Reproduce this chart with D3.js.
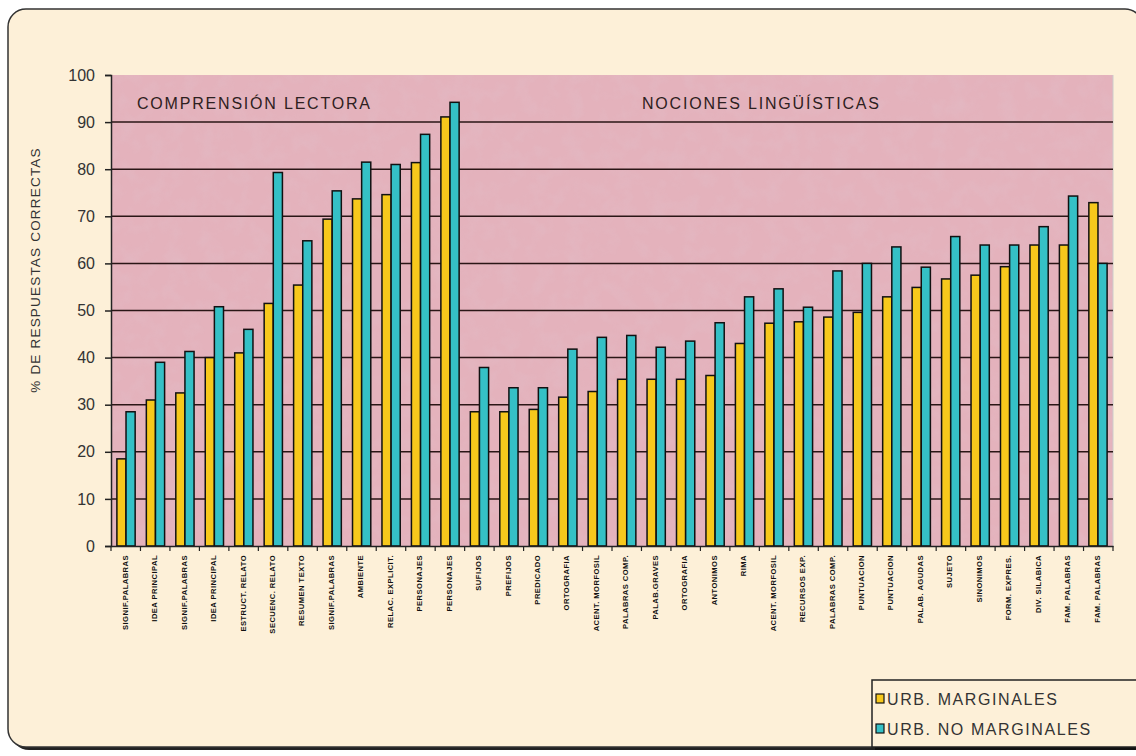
<!DOCTYPE html>
<html lang="es">
<head>
<meta charset="utf-8">
<title>% de respuestas correctas</title>
<style>
  body { margin: 0; background: #fff; }
  text { font-family: "Liberation Sans", Arial, sans-serif; }
  .tick text { font-size: 16px; fill: #333; }
  .xlab { font-size: 7.6px; font-weight: bold; fill: #111; letter-spacing: 0.45px; }
</style>
</head>
<body>
<svg width="1136" height="756"></svg>
<script src="https://d3js.org/d3.v7.min.js"></script>
<script>
// categorias (eje x)
var categories = [
  "SIGNIF.PALABRAS", "IDEA PRINCIPAL", "SIGNIF.PALABRAS", "IDEA PRINCIPAL",
  "ESTRUCT. RELATO", "SECUENC. RELATO", "RESUMEN TEXTO", "SIGNIF.PALABRAS",
  "AMBIENTE", "RELAC. EXPLICIT.", "PERSONAJES", "PERSONAJES",
  "SUFIJOS", "PREFIJOS", "PREDICADO", "ORTOGRAFIA", "ACENT. MORFOSIL",
  "PALABRAS COMP.", "PALAB.GRAVES", "ORTOGRAFIA", "ANTONIMOS", "RIMA",
  "ACENT. MORFOSIL", "RECURSOS EXP.", "PALABRAS COMP.", "PUNTUACION",
  "PUNTUACION", "PALAB. AGUDAS", "SUJETO", "SINONIMOS", "FORM. EXPRES.",
  "DIV. SILABICA", "FAM. PALABRAS", "FAM. PALABRAS"
];
// URB. MARGINALES
var marginales = [
  18.5, 31, 32.5, 40, 41, 51.5, 55.4, 69.4, 73.7, 74.6, 81.4, 91.1,
  28.5, 28.5, 29, 31.6, 32.8, 35.4, 35.4, 35.4, 36.2, 43, 47.3, 47.6,
  48.6, 49.6, 52.9, 54.9, 56.7, 57.5, 59.3, 63.9, 63.9, 72.9
];
// URB. NO MARGINALES
var noMarginales = [
  28.5, 39, 41.3, 50.8, 46, 79.3, 64.8, 75.4, 81.5, 81, 87.4, 94.2,
  37.9, 33.6, 33.6, 41.8, 44.3, 44.7, 42.2, 43.5, 47.4, 52.9, 54.6, 50.7,
  58.4, 60, 63.5, 59.2, 65.7, 63.9, 63.9, 67.8, 74.3, 60
];
var seriesNames = ["URB. MARGINALES", "URB. NO MARGINALES"];
var seriesColors = ["#f7c81c", "#35c0c6"];
var yTicks = [0, 10, 20, 30, 40, 50, 60, 70, 80, 90, 100];

var svg = d3.select("svg");

// fondo con textura suave
var defs = svg.append("defs");
var f = defs.append("filter").attr("id", "mottle").attr("x", 0).attr("y", 0).attr("width", 1).attr("height", 1);
f.append("feTurbulence").attr("type", "fractalNoise").attr("baseFrequency", 0.06).attr("numOctaves", 3).attr("seed", 4);
f.append("feColorMatrix").attr("type", "matrix")
  .attr("values", "0 0 0 0 0.75  0 0 0 0 0.55  0 0 0 0 0.62  0 0 0 1.1 -0.45");

// marco exterior
svg.append("rect").attr("x", 11).attr("y", 12).attr("width", 1135).attr("height", 738)
  .attr("rx", 18).attr("fill", "#222");
svg.append("rect").attr("x", 8).attr("y", 9).attr("width", 1135).attr("height", 738)
  .attr("rx", 18).attr("fill", "#fdf0d8").attr("stroke", "#333").attr("stroke-width", 1.5);

var margin = { left: 111, top: 75, right: 1113, bottom: 546 };

var x = d3.scaleBand().domain(d3.range(categories.length))
  .range([margin.left, margin.right]).paddingInner(0.38).paddingOuter(0.2);
var xs = d3.scaleBand().domain([0, 1]).range([0, x.bandwidth()]);
var y = d3.scaleLinear().domain([0, 100]).range([margin.bottom, margin.top]);

// area del grafico
svg.append("rect").attr("x", margin.left).attr("y", margin.top)
  .attr("width", margin.right - margin.left).attr("height", margin.bottom - margin.top)
  .attr("fill", "#e4b2bc");
svg.append("rect").attr("x", margin.left).attr("y", margin.top)
  .attr("width", margin.right - margin.left).attr("height", margin.bottom - margin.top)
  .attr("fill", "#fff").attr("filter", "url(#mottle)").attr("opacity", 0.5);
svg.append("line").attr("x1", margin.right).attr("x2", margin.right)
  .attr("y1", margin.top).attr("y2", margin.bottom).attr("stroke", "#ccc").attr("stroke-width", 1);

// lineas de division
svg.append("g").selectAll("line").data(yTicks.slice(1, -1)).join("line")
  .attr("x1", margin.left).attr("x2", margin.right)
  .attr("y1", function(d) { return y(d); }).attr("y2", function(d) { return y(d); })
  .attr("stroke", "#2a1616").attr("stroke-width", 1.5);

// barras
var groups = svg.append("g").selectAll("g").data(categories).join("g")
  .attr("transform", function(d, i) { return "translate(" + x(i) + ",0)"; });
[marginales, noMarginales].forEach(function(vals, s) {
  groups.append("rect")
    .attr("x", xs(s))
    .attr("y", function(d, i) { return y(vals[i]); })
    .attr("width", xs.bandwidth())
    .attr("height", function(d, i) { return y(0) - y(vals[i]); })
    .attr("fill", seriesColors[s])
    .attr("stroke", "#111").attr("stroke-width", 1.5);
});

// eje y
var yAxis = svg.append("g").attr("transform", "translate(" + margin.left + ",0)")
  .call(d3.axisLeft(y).tickValues(yTicks).tickSize(6).tickPadding(10));
yAxis.select(".domain").attr("stroke", "#222").attr("stroke-width", 1.5);
yAxis.selectAll(".tick line").attr("stroke", "#222").attr("stroke-width", 1.5);

// eje x
var xAxis = svg.append("g").attr("transform", "translate(0," + margin.bottom + ")")
  .call(d3.axisBottom(x).tickSize(0).tickFormat(""));
xAxis.select(".domain").attr("stroke", "#222").attr("stroke-width", 1.5);
svg.append("g").selectAll("line").data(d3.range(categories.length + 1)).join("line")
  .attr("x1", function(i) { return margin.left + i * (margin.right - margin.left) / categories.length; })
  .attr("x2", function(i) { return margin.left + i * (margin.right - margin.left) / categories.length; })
  .attr("y1", margin.bottom).attr("y2", margin.bottom + 5)
  .attr("stroke", "#222").attr("stroke-width", 1.2);

svg.append("g").selectAll("text").data(categories).join("text")
  .attr("class", "xlab")
  .attr("transform", function(d, i) {
    return "translate(" + (x(i) + x.bandwidth() / 2 - 1) + "," + (margin.bottom + 9) + ") rotate(-90)";
  })
  .attr("text-anchor", "end").attr("dy", "0.35em")
  .text(function(d) { return d; });

// titulo eje y
svg.append("text")
  .attr("transform", "translate(40,270) rotate(-90)")
  .attr("text-anchor", "middle")
  .style("font-size", "13.5px").style("letter-spacing", "1.2px").style("fill", "#333")
  .text("% DE RESPUESTAS CORRECTAS");

// rotulos de seccion
svg.append("text").attr("x", 137).attr("y", 109)
  .style("font-size", "16px").style("letter-spacing", "1.8px").style("fill", "#2e2020")
  .text("COMPRENSIÓN LECTORA");
svg.append("text").attr("x", 642).attr("y", 109)
  .style("font-size", "16px").style("letter-spacing", "1.8px").style("fill", "#2e2020")
  .text("NOCIONES LINGÜÍSTICAS");

// leyenda
var lg = svg.append("g").attr("transform", "translate(872,680)");
lg.append("rect").attr("x", 3).attr("y", 3).attr("width", 280).attr("height", 67).attr("fill", "#111");
lg.append("rect").attr("width", 280).attr("height", 67)
  .attr("fill", "#fdf0d8").attr("stroke", "#222").attr("stroke-width", 1.5);
seriesNames.forEach(function(name, i) {
  lg.append("rect").attr("x", 4).attr("y", 14 + i * 30).attr("width", 8).attr("height", 9)
    .attr("fill", seriesColors[i]).attr("stroke", "#111").attr("stroke-width", 1.2);
  lg.append("text").attr("x", 15).attr("y", 25 + i * 30)
    .style("font-size", "16px").style("letter-spacing", "1.6px").style("fill", "#333")
    .text(name);
});
</script>
</body>
</html>
